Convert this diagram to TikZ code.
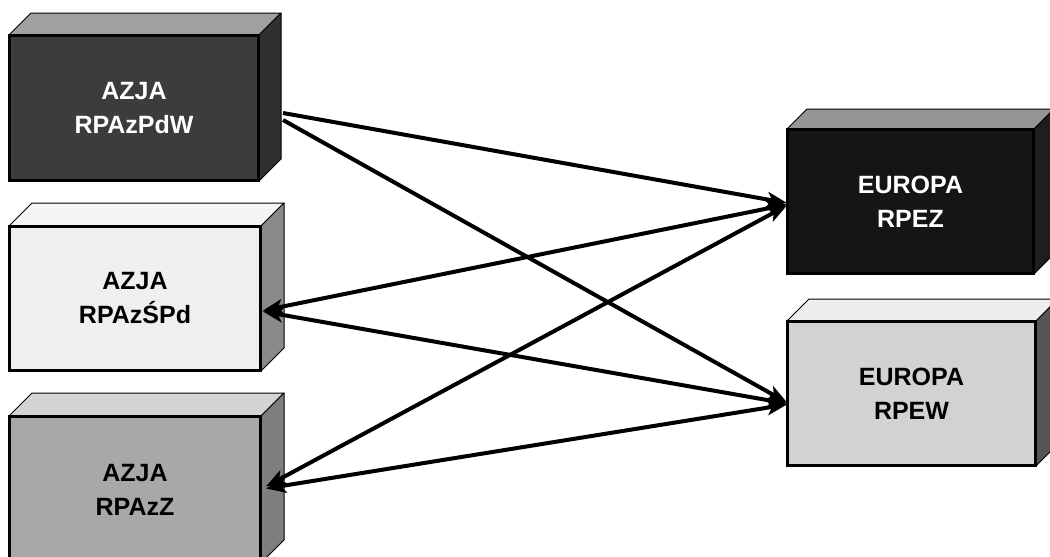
\documentclass[tikz,border=0pt]{standalone}
\usepackage{fontspec}
\setmainfont{Liberation Sans}
\usetikzlibrary{arrows.meta}
\definecolor{fA}{HTML}{3C3C3C}\definecolor{tA}{HTML}{A0A0A0}\definecolor{rA}{HTML}{303030}
\definecolor{fB}{HTML}{EFEFEF}\definecolor{tB}{HTML}{F4F4F4}\definecolor{rB}{HTML}{8A8A8A}
\definecolor{fC}{HTML}{A8A8A8}\definecolor{tC}{HTML}{D4D4D4}\definecolor{rC}{HTML}{7E7E7E}
\definecolor{fD}{HTML}{151515}\definecolor{tD}{HTML}{959595}\definecolor{rD}{HTML}{1E1E1E}
\definecolor{fE}{HTML}{D2D2D2}\definecolor{tE}{HTML}{EEEEEE}\definecolor{rE}{HTML}{555555}
\newcommand\mycube[4]{%
  \draw[side,fill=#3] (#1.north west) -- ++(#2,-#2) -- ([shift={(#2,-#2)}]#1.north east) -- (#1.north east) -- cycle;
  \draw[side,fill=#4] (#1.north east) -- ([shift={(#2,-#2)}]#1.north east) -- ([shift={(#2,-#2)}]#1.south east) -- (#1.south east) -- cycle;
  \draw[line width=2pt] (#1.north west) rectangle (#1.south east);}
\begin{document}
\begin{tikzpicture}[x=1pt,y=-1pt,
  face/.style={draw=black,line width=2pt,inner sep=0pt,align=center,
    font=\fontsize{25}{34}\selectfont\bfseries},
  side/.style={draw=black,line width=1pt,line join=round},
  tip/.tip={Stealth[length=20pt,width=15pt,inset=5pt]},
  link/.style={line width=4pt,draw=black,-tip},
  link2/.style={line width=4pt,draw=black,tip-tip}]
\useasboundingbox (0,0) rectangle (1050,557);
\clip (0,0) rectangle (1050,557);
\fill[white] (0,0) rectangle (1050,557);

\node[face,fill=fA,text=white,minimum width=248pt,minimum height=144pt] (pdw) at (134,108) {AZJA\\RPAzPdW};
\mycube{pdw}{22}{tA}{rA}
\node[face,fill=fB,text=black,minimum width=250pt,minimum height=143pt] (spd) at (135,298.5) {AZJA\\RPAzŚPd};
\mycube{spd}{23}{tB}{rB}
\node[face,fill=fC,text=black,minimum width=250pt,minimum height=145pt] (z) at (135,489.5) {AZJA\\RPAzZ};
\mycube{z}{23}{tC}{rC}
\node[face,fill=fD,text=white,minimum width=245pt,minimum height=143pt] (rpez) at (910.5,201.5) {EUROPA\\RPEZ};
\mycube{rpez}{20}{tD}{rD}
\node[face,fill=fE,text=black,minimum width=247pt,minimum height=143pt] (rpew) at (911.5,393.5) {EUROPA\\RPEW};
\mycube{rpew}{22}{tE}{rE}

\draw[link] ([shift={(24,5)}]pdw.east) -- ([shift={(0,1.5)}]rpez.west);
\draw[link] ([shift={(24,12)}]pdw.east) -- ([shift={(0,9)}]rpew.west);
\draw[link2] ([shift={(2,12)}]spd.east) -- ([shift={(0,3)}]rpez.west);
\draw[link2] ([shift={(2,13)}]spd.east) -- ([shift={(0,10)}]rpew.west);
\draw[link2] ([shift={(5,-3)}]z.east) -- ([shift={(0,4)}]rpez.west);
\draw[link2] ([shift={(5,-1)}]z.east) -- ([shift={(0,11)}]rpew.west);
\end{tikzpicture}
\end{document}
